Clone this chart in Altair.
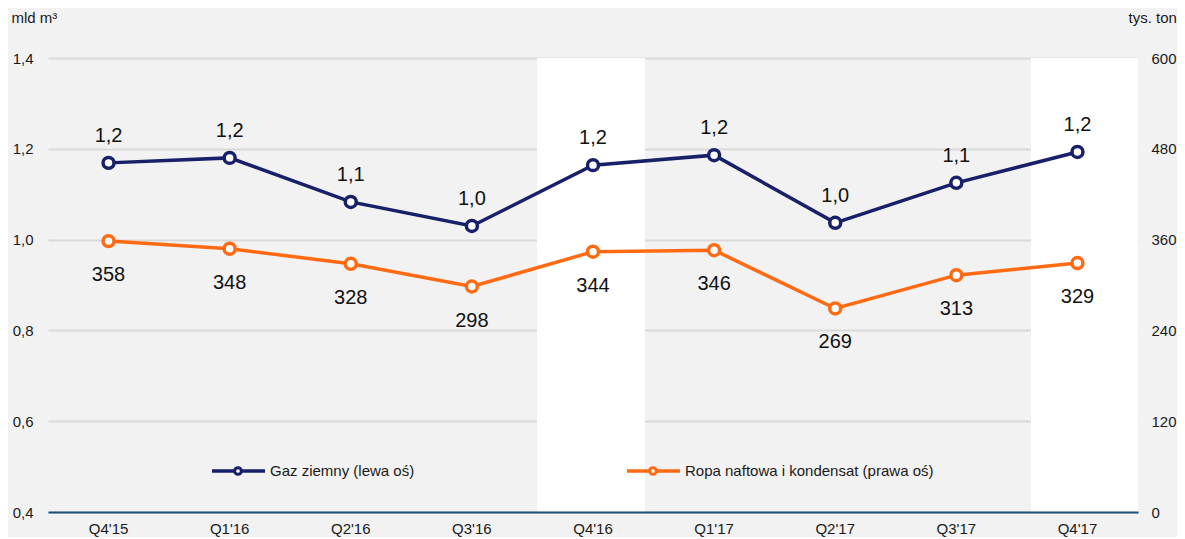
import altair as alt
import pandas as pd

quarters = ["Q4'15", "Q1'16", "Q2'16", "Q3'16", "Q4'16", "Q1'17", "Q2'17", "Q3'17", "Q4'17"]
gas = [1.169, 1.180, 1.083, 1.030, 1.164, 1.186, 1.037, 1.125, 1.193]
gas_labels = ["1,2", "1,2", "1,1", "1,0", "1,2", "1,2", "1,0", "1,1", "1,2"]
oil = [358, 348, 328, 298, 344, 346, 269, 313, 329]
band_a = ["Q4'16"]
band_b = ["Q4'17"]

FONT = "Liberation Sans"
NAVY = "#172068"
ORANGE = "#ff6a13"
TXT = "#1a1a1a"

df = pd.DataFrame({"q": quarters, "gas": gas, "gas_label": gas_labels, "oil": oil})

xenc = alt.X("q:N", sort=quarters, title=None,
             scale=alt.Scale(paddingInner=0, paddingOuter=0),
             axis=alt.Axis(labelAngle=0, labelFont=FONT, labelFontSize=15, labelColor=TXT,
                           labelPadding=9, ticks=False, tickSize=0, domainColor="#1f4e79",
                           domainWidth=2, grid=False, zindex=1))

yleft_scale = alt.Scale(domain=[0.4, 1.4], nice=False, zero=False)
yleft_axis = alt.Axis(values=[0.4, 0.6, 0.8, 1.0, 1.2, 1.4],
                      labelExpr="replace(format(datum.value, '.1f'), '.', ',')",
                      labelFont=FONT, labelFontSize=15, labelColor=TXT, labelPadding=15,
                      ticks=False, tickSize=0, domain=False, grid=True, gridColor="#d9d9d9",
                      gridWidth=2,
                      title="mld m³", titleAngle=0, titleX=-37, titleY=-36, titleAlign="left",
                      titleBaseline="alphabetic", titleFont=FONT, titleFontSize=15,
                      titleFontWeight="normal", titleColor=TXT)

yright_scale = alt.Scale(domain=[0, 600], nice=False)
yright_axis = alt.Axis(values=[0, 120, 240, 360, 480, 600], orient="right",
                       labelFont=FONT, labelFontSize=15, labelColor=TXT, labelPadding=13,
                       ticks=False, tickSize=0, domain=False, grid=False,
                       title="tys. ton", titleAngle=0, titleX=-10, titleY=-36, titleAlign="left",
                       titleBaseline="alphabetic", titleFont=FONT, titleFontSize=15,
                       titleFontWeight="normal", titleColor=TXT)

band1 = alt.Chart(pd.DataFrame({"q": band_a})).mark_bar(width=108, color="white", xOffset=-2).encode(
    x=xenc,
    y=alt.datum(1.4, scale=yleft_scale, axis=yleft_axis, type="quantitative"),
    y2=alt.datum(0.4),
)
band2 = alt.Chart(pd.DataFrame({"q": band_b})).mark_bar(width=107, color="white", xOffset=7).encode(
    x=xenc,
    y=alt.datum(1.4, scale=yleft_scale, axis=yleft_axis, type="quantitative"),
    y2=alt.datum(0.4),
)

gbase = alt.Chart(df).encode(x=xenc, y=alt.Y("gas:Q", scale=yleft_scale, axis=yleft_axis))
gas_line = gbase.mark_line(color=NAVY, strokeWidth=3.5)
gas_pts = gbase.mark_point(shape="circle", size=120, filled=True, fill="white", stroke=NAVY,
                           strokeWidth=3.5, opacity=1)
gas_txt = gbase.mark_text(font=FONT, fontSize=20, color="#111111", dy=-21,
                          baseline="alphabetic").encode(text="gas_label:N")

left = alt.layer(band1, band2, gas_line, gas_pts, gas_txt)

obase = alt.Chart(df).encode(x=xenc, y=alt.Y("oil:Q", scale=yright_scale, axis=yright_axis))
oil_line = obase.mark_line(color=ORANGE, strokeWidth=3.5)
oil_pts = obase.mark_point(shape="circle", size=120, filled=True, fill="white", stroke=ORANGE,
                           strokeWidth=3.5, opacity=1)
oil_txt = obase.mark_text(font=FONT, fontSize=20, color="#111111", dy=40,
                          baseline="alphabetic").encode(text="oil:Q")

right = alt.layer(oil_line, oil_pts, oil_txt)

# legend
leg_y = 413
legend_items = [
    ("Gaz ziemny (lewa oś)", NAVY, 164, 217, 190, 222),
    ("Ropa naftowa i kondensat (prawa oś)", ORANGE, 579, 632, 605, 637),
]
one = pd.DataFrame({"k": [0]})
leg_layers = []
for label, col, x1, x2, xc, xt in legend_items:
    leg_layers.append(alt.Chart(one).mark_rule(color=col, strokeWidth=3.5).encode(
        x=alt.value(x1), x2=alt.value(x2), y=alt.value(leg_y)))
    leg_layers.append(alt.Chart(one).mark_point(shape="circle", size=45, filled=True, fill="white",
                                                stroke=col, strokeWidth=3, opacity=1).encode(
        x=alt.value(xc), y=alt.value(leg_y)))
    leg_layers.append(alt.Chart(one).mark_text(font=FONT, fontSize=15, color=TXT, align="left",
                                               baseline="middle", text=label).encode(
        x=alt.value(xt), y=alt.value(leg_y)))

chart = alt.layer(left, right, *leg_layers).resolve_scale(y="independent").properties(
    width=1090, height=454,
    padding={"left": 40, "top": 50, "right": 39, "bottom": 25},
    autosize="none",
    background="#f2f2f2",
).configure_view(stroke=None)

chart.save("out.html", embed_options={"renderer": "svg", "actions": False})
